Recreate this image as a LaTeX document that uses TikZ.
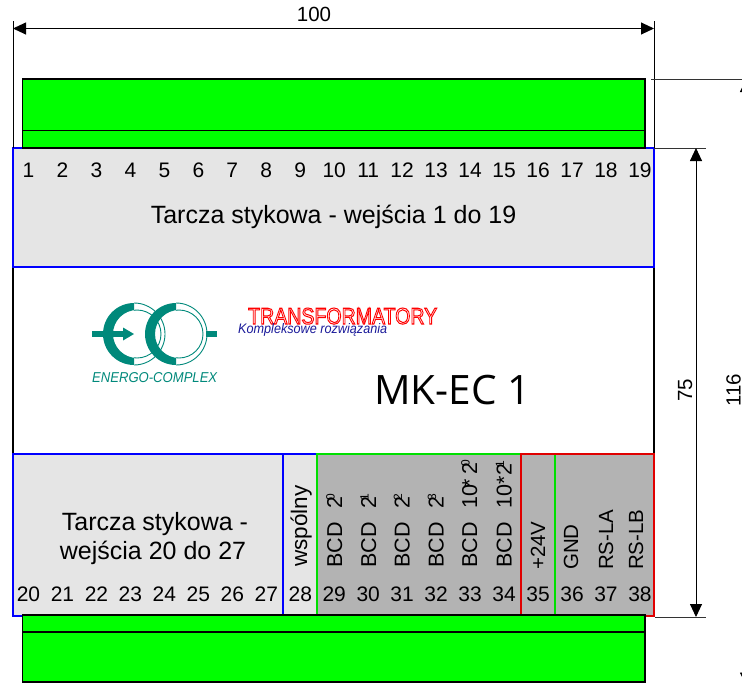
\documentclass[tikz,border=0pt]{standalone}
\usepackage{fontspec}
\setmainfont{Liberation Sans}
\newfontfamily\mkfont{Open Sans}
\usetikzlibrary{arrows.meta}
\definecolor{tealc}{HTML}{00897B}
\definecolor{panellight}{HTML}{E5E5E5}
\definecolor{paneldark}{HTML}{B3B3B3}
\definecolor{logoblue}{HTML}{1A1A9A}
\definecolor{edgegreen}{HTML}{00E000}
\definecolor{edgered}{HTML}{E00000}
\newcommand{\supp}[1]{\kern-4.5pt\raisebox{7.5pt}{\fontsize{12}{12}\selectfont #1}}
\newcommand{\outlined}[1]{\special{pdf:code q 1 Tr 0.45 w 1 0 0 RG}#1\special{pdf:code Q}}
\newcommand{\logoring}[2]{%
  \begin{scope}
    \clip (#1-40,#2-40) rectangle (#1,#2+40);
    \fill[tealc,even odd rule] (#1,#2) circle[radius=31] (#1+3,#2) circle[radius=24];
  \end{scope}
  \begin{scope}
    \clip (#1,#2-40) rectangle (#1+40,#2+40);
    \draw[tealc,line width=0.9pt] (#1,#2) circle[radius=31] (#1+3,#2) circle[radius=24];
  \end{scope}}
\tikzset{
  x=1pt,y=-1pt,
  txt/.style={font=\fontsize{21}{24}\selectfont,inner sep=0pt,anchor=base},
  captxt/.style={font=\fontsize{25}{29}\selectfont,inner sep=0pt,anchor=base},
  vert/.style={font=\fontsize{20.5}{24}\selectfont,inner sep=0pt,anchor=base west,rotate=90},
  bcd/.style={vert,font=\fontsize{21.5}{24}\selectfont},
  dimarrow/.style={line width=0.9pt,{Triangle[length=13pt,width=12pt]}-{Triangle[length=13pt,width=12pt]}},
  extline/.style={line width=0.9pt,black!80},
  bluepanel/.style={draw=blue,line width=1.3pt,fill=panellight},
  greenbox/.style={draw=black,line width=1.1pt,fill=green},
}
\begin{document}
\begin{tikzpicture}
\useasboundingbox (0,0) rectangle (742,683);
\clip (0,0) rectangle (742,683);
% module body
\draw[line width=1.1pt,fill=white] (13,267) rectangle (654,454);
% panels
\draw[bluepanel] (13,148) rectangle (654,267);
\draw[bluepanel] (13,454) rectangle (283,616);
\draw[bluepanel] (283,454) rectangle (317,616);
\fill[paneldark] (317,454) rectangle (654,616);
\draw[edgegreen,line width=1.3pt] (317,616) -- (317,454) -- (521,454);
\draw[edgegreen,line width=1.3pt] (555,454) -- (555,616);
\draw[edgered,line width=1.3pt] (521,616) -- (521,454) -- (654,454) -- (654,616) -- (645,616);
% dimension lines
\coordinate (L0) at (13,21); \coordinate (L1) at (13,148);
\coordinate (R0) at (654,21); \coordinate (R1) at (654,148);
\draw[line width=0.9pt] (L0) -- (L1);
\draw[line width=0.9pt] (R0) -- (R1);
\coordinate (wa) at (13,28.5); \coordinate (wb) at (654,28.5);
\draw[dimarrow] (wa) -- (wb);
\coordinate (e1a) at (651,79); \coordinate (e1b) at (742,79);
\draw[extline] (e1a) -- (e1b);
\coordinate (e2a) at (654,148); \coordinate (e2b) at (706,148);
\draw[extline] (e2a) -- (e2b);
\coordinate (e3a) at (655,617); \coordinate (e3b) at (706,617);
\draw[extline] (e3a) -- (e3b);
\coordinate (h1) at (696,148); \coordinate (h2) at (696,617);
\draw[dimarrow] (h1) -- (h2);
\coordinate (t1) at (746,79); \coordinate (t2) at (746,685.5);
\draw[dimarrow] (t1) -- (t2);
% connectors (green housings)
\draw[greenbox] (22.5,79) rectangle (645,148);
\draw[greenbox] (22.5,79) rectangle (645,130.5);
\draw[greenbox] (22.5,615) rectangle (645,682);
\draw[greenbox] (22.5,615) rectangle (645,632);
% dimension labels
\node[txt,font=\fontsize{20.5}{24}\selectfont] (d100) at (314,21) {100};
\node[vert,anchor=base] (d75) at (692,390) {75};
\node[vert,anchor=base] (d116) at (740.5,390) {116};
% terminal numbers
\foreach \n in {1,...,19} {
  \node[txt] (n\n) at ({28.5+33.97*(\n-1)},177) {\n};
}
\foreach \n in {20,...,38} {
  \node[txt] (n\n) at ({28.5+33.97*(\n-20)},601) {\n};
}
% panel captions
\node[captxt] (cap1) at (333.5,223) {Tarcza stykowa - wejścia 1 do 19};
\node[captxt] (cap2a) at (155,530) {Tarcza stykowa -};
\node[captxt] (cap2b) at (153,559) {wejścia 20 do 27};
% vertical labels
\node[vert,font=\fontsize{22.5}{26}\selectfont] (wsp) at (307,567) {wspólny};
\node[bcd] (b0) at (342,568) {BCD\kern14pt 2\supp{0}};
\node[bcd] (b1) at (376,568) {BCD\kern14pt 2\supp{1}};
\node[bcd] (b2) at (409.5,568) {BCD\kern14pt 2\supp{2}};
\node[bcd] (b3) at (443.5,568) {BCD\kern14pt 2\supp{3}};
\node[bcd] (b4) at (477,568) {BCD\kern14pt 10\kern-3pt*\kern5pt 2\supp{0}};
\node[bcd] (b5) at (511.5,568) {BCD\kern14pt 10*\kern1pt 2\supp{1}};
\node[vert] (v24) at (545,570) {+24V};
\node[vert] (gnd) at (578,570) {GND};
\node[vert] (rsa) at (613,570) {RS-LA};
\node[vert] (rsb) at (643,570) {RS-LB};
% title
\node[inner sep=0pt,anchor=base] (title) at (452.5,404) {\mkfont\fontsize{40.5}{44}\selectfont MK-EC 1};
% energo-complex logo
\fill[tealc] (206,331) rectangle (217,337);
\logoring{134}{334}
\fill[tealc] (92,331) rectangle (124,337);
\fill[tealc] (123,327.5) -- (134,334) -- (123,340.5) -- cycle;
\logoring{176}{334}
\node[inner sep=0pt,anchor=base west,text=tealc] (energo) at (92,382)
  {\resizebox{125pt}{10pt}{\itshape ENERGO-COMPLEX}};
% transformatory logo
\node[inner sep=0pt,anchor=base west] (trans) at (248,324)
  {\resizebox{189pt}{16pt}{\outlined{TRANSFORMATORY}}};
\node[inner sep=0pt,anchor=base west,text=logoblue] (kompl) at (238,333)
  {\resizebox{149pt}{10pt}{\itshape Kompleksowe rozwiązania}};
\end{tikzpicture}
\end{document}
